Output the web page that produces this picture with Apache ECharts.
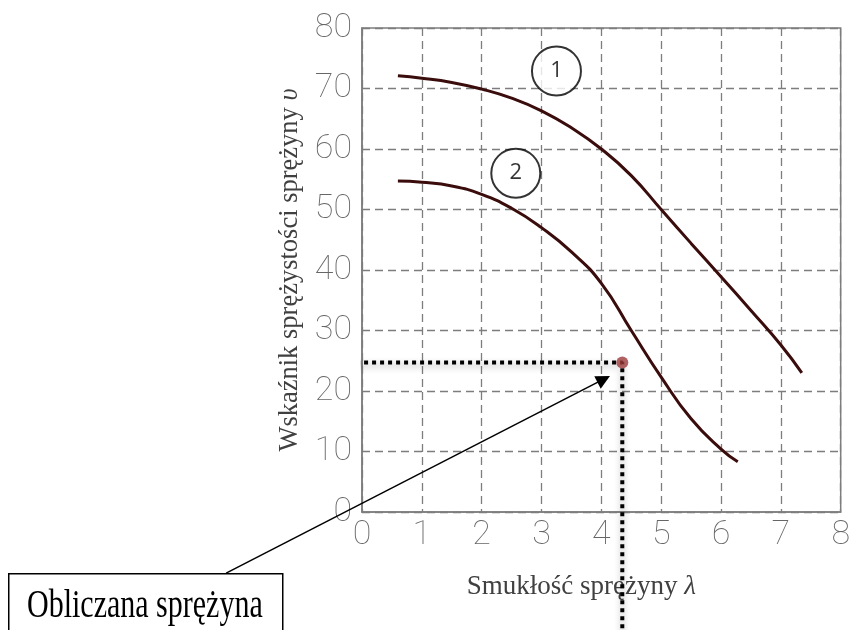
<!DOCTYPE html>
<html>
<head>
<meta charset="utf-8">
<script src="https://cdn.jsdelivr.net/npm/echarts@6/dist/echarts.min.js"></script>
<style>
    html, body {margin: 0; padding: 0; background: #fff;}
    #chart {width: 853px; height: 630px;}
</style>
</head>
<body>
<div id="chart"></div>
<script>
// krzywa 1 i 2: smukłość lambda -> wskaźnik v
const lambda1 = [0.6, 1.0, 1.5, 2.0, 2.5, 3.0, 3.5, 4.0, 4.5, 5.0, 5.5, 6.0, 6.5, 7.0, 7.35];
const v1 = [72.1, 71.7, 71.0, 69.9, 68.4, 66.3, 63.5, 60.0, 55.6, 50.0, 44.4, 38.9, 33.3, 27.6, 23.0];
const lambda2 = [0.6, 1.0, 1.5, 2.0, 2.5, 3.0, 3.5, 4.0, 4.5, 5.0, 5.5, 6.0, 6.28];
const v2 = [54.7, 54.5, 53.9, 52.5, 50.2, 47.0, 43.0, 37.8, 30.0, 22.3, 15.4, 10.4, 8.3];
const springPoint = [4.35, 24.7];
const guideLine = [[-0.5, 24.7], [4.35, 24.7], [4.35, -19.6]];
const arrowLine = [[-2.27, -10.1], [4.04, 21.95]];
const curveTags = [{name: '1', value: [3.25, 72.9]}, {name: '2', value: [2.57, 56.0]}];
const xTicks = [0, 1, 2, 3, 4, 5, 6, 7, 8];
const yTicks = [0, 10, 20, 30, 40, 50, 60, 70, 80];

const gray = '#7d7d7d';
const curveColor = '#3a0c0c';
const serif = '"Liberation Serif", "Times New Roman", serif';
const tickFont = {fontFamily: 'Roboto', fontWeight: 100, fontSize: 34, color: '#666'};

function pairs(xs, ys) {
    return xs.map((x, i) => [x, ys[i]]);
}

const chart = echarts.init(document.getElementById('chart'));
chart.setOption({
    animation: false,
    backgroundColor: '#fff',
    grid: {left: 362, right: 8, top: 28, bottom: 118, show: true, borderColor: gray, borderWidth: 1.5},
    xAxis: {
        type: 'value', min: xTicks[0], max: xTicks[xTicks.length - 1], interval: 1,
        axisLine: {onZero: false, lineStyle: {color: gray, width: 1.5}},
        axisTick: {show: false},
        axisLabel: Object.assign({margin: 6}, tickFont),
        splitLine: {lineStyle: {color: gray, width: 1.3, type: [8, 5]}},
        name: '{a|Smukłość sprężyny }{b|λ}',
        nameLocation: 'middle', nameGap: 61,
        nameTextStyle: {
            padding: [0, 40, 0, 0],
            rich: {
                a: {fontFamily: serif, fontSize: 27, color: '#404040'},
                b: {fontFamily: serif, fontSize: 27, fontStyle: 'italic', color: '#404040'}
            }
        }
    },
    yAxis: {
        type: 'value', min: yTicks[0], max: yTicks[yTicks.length - 1], interval: 10,
        axisLine: {show: true, onZero: false, lineStyle: {color: gray, width: 1.5}},
        axisTick: {show: false},
        axisLabel: Object.assign({margin: 10}, tickFont),
        splitLine: {lineStyle: {color: gray, width: 1.3, type: [8, 5]}},
        name: '{a|Wskaźnik sprężystości sprężyny }{b|υ}',
        nameLocation: 'middle', nameGap: 57,
        nameTextStyle: {
            rich: {
                a: {fontFamily: serif, fontSize: 26.5, color: '#404040'},
                b: {fontFamily: serif, fontSize: 26.5, fontStyle: 'italic', color: '#404040'}
            }
        }
    },
    series: [
        {
            type: 'line', data: pairs(lambda1, v1), smooth: 0.5, showSymbol: false, z: 3,
            lineStyle: {color: curveColor, width: 3}
        },
        {
            type: 'line', data: pairs(lambda2, v2), smooth: 0.5, showSymbol: false, z: 3,
            lineStyle: {color: curveColor, width: 3}
        },
        {
            // linie odczytu (kropkowane)
            type: 'line', data: guideLine, showSymbol: false, clip: false, z: 4,
            lineStyle: {
                color: '#000', width: 4, type: [4, 4], cap: 'butt',
                shadowColor: 'rgba(0,0,0,0.35)', shadowBlur: 6, shadowOffsetY: 3
            }
        },
        {
            type: 'scatter', data: [springPoint], symbolSize: 12, z: 5,
            itemStyle: {color: '#9c3a3a'}
        },
        {
            // strzałka od opisu
            type: 'lines', coordinateSystem: 'cartesian2d', clip: false, z: 5,
            symbol: ['none', 'triangle'], symbolSize: 14,
            lineStyle: {color: '#000', width: 1.5, opacity: 1},
            data: [{coords: arrowLine}]
        },
        {
            type: 'scatter', data: curveTags, symbolSize: 49, z: 6,
            itemStyle: {color: '#fff', borderColor: '#000', borderWidth: 2},
            label: {show: true, position: 'inside', formatter: '{b}', color: '#000', fontSize: 22, fontFamily: 'Open Sans'}
        }
    ],
    graphic: [
        {
            type: 'rect', left: 8, top: 573, z: 10,
            shape: {width: 274, height: 70},
            style: {fill: '#fff', stroke: '#000', lineWidth: 1.5}
        },
        {
            type: 'text', left: 27, top: 586, z: 11, scaleX: 0.75,
            style: {text: 'Obliczana sprężyna', fontFamily: serif, fontSize: 40, fill: '#000'}
        }
    ]
});
</script>
</body>
</html>
